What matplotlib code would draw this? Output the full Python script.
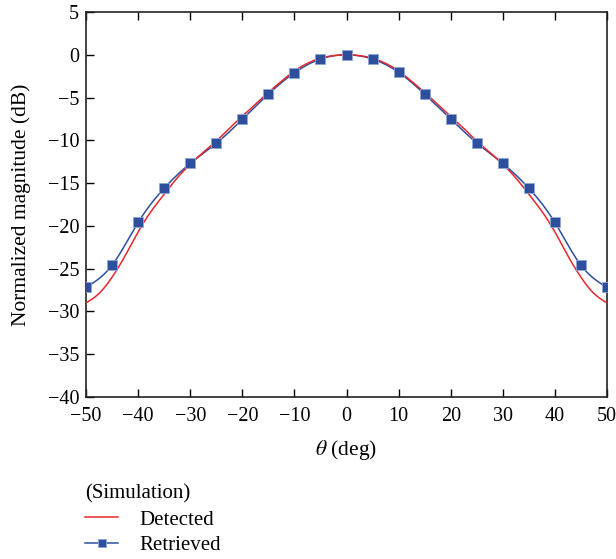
import numpy as np
import matplotlib
matplotlib.use("Agg")
import matplotlib.pyplot as plt
from matplotlib.lines import Line2D

# ---- data ----
theta_retrieved = [-50, -45, -40, -35, -30, -25, -20, -15, -10, -5, 0,
                   5, 10, 15, 20, 25, 30, 35, 40, 45, 50]
mag_retrieved = [-27.2, -24.6, -19.6, -15.6, -12.7, -10.35, -7.55, -4.6, -2.1, -0.5, 0.0,
                 -0.5, -2.05, -4.6, -7.5, -10.3, -12.7, -15.6, -19.6, -24.6, -27.2]

theta_detected = [-50, -47.5, -45, -42.5, -40, -37.5, -35, -32.5, -30, -27.5, -25,
                  -22.5, -20, -17.5, -15, -12.5, -10, -7.5, -5, -2.5, 0,
                  2.5, 5, 7.5, 10, 12.5, 15, 17.5, 20, 22.5, 25,
                  27.5, 30, 32.5, 35, 37.5, 40, 42.5, 45, 47.5, 50]
mag_detected = [-29.0, -27.9, -26.0, -23.5, -20.7, -18.3, -16.3, -14.4, -12.8, -11.4, -10.1,
                -8.6, -7.2, -5.8, -4.4, -3.1, -1.9, -1.0, -0.4, -0.1, 0.0,
                -0.1, -0.4, -1.0, -1.9, -3.1, -4.4, -5.8, -7.2, -8.6, -10.1,
                -11.4, -12.8, -14.4, -16.3, -18.3, -20.7, -23.5, -26.0, -27.9, -29.0]

xticks = [-50, -40, -30, -20, -10, 0, 10, 20, 30, 40, 50]
yticks = [5, 0, -5, -10, -15, -20, -25, -30, -35, -40]


def smooth(x, y, n=400):
    """Natural cubic spline for drawing a smooth line through the points."""
    x = np.asarray(x, float)
    y = np.asarray(y, float)
    m = len(x)
    h = np.diff(x)
    A = np.zeros((m, m))
    b = np.zeros(m)
    A[0, 0] = A[-1, -1] = 1
    for i in range(1, m - 1):
        A[i, i - 1] = h[i - 1]
        A[i, i] = 2 * (h[i - 1] + h[i])
        A[i, i + 1] = h[i]
        b[i] = 3 * ((y[i + 1] - y[i]) / h[i] - (y[i] - y[i - 1]) / h[i - 1])
    c = np.linalg.solve(A, b)
    xs = np.linspace(x[0], x[-1], n)
    idx = np.clip(np.searchsorted(x, xs) - 1, 0, m - 2)
    dx = xs - x[idx]
    hi = h[idx]
    bi = (y[idx + 1] - y[idx]) / hi - hi * (2 * c[idx] + c[idx + 1]) / 3
    di = (c[idx + 1] - c[idx]) / (3 * hi)
    ys = y[idx] + bi * dx + c[idx] * dx ** 2 + di * dx ** 3
    return xs, ys


plt.rcParams['font.family'] = ['Liberation Serif', 'DejaVu Serif']
plt.rcParams['mathtext.fontset'] = 'stix'

red = '#e8262d'
blue = '#2d4f9e'

fig = plt.figure(figsize=(6.16, 5.59), dpi=100)
ax = fig.add_axes([0.1396, 0.2898, 0.8458, 0.6887])

xd, yd = smooth(theta_detected, mag_detected)
ax.plot(xd, yd, color=red, lw=1.1, zorder=3)
xr, yr = smooth(theta_retrieved, mag_retrieved)
ax.plot(xr, yr, color=blue, lw=1.1, zorder=2)
ax.plot(theta_retrieved, mag_retrieved, ls='none', marker='s', ms=7,
        mfc=blue, mec='#8fa6d6', mew=0.6, zorder=4, clip_on=True)

ax.set_xlim(-50, 50)
ax.set_ylim(-40, 5)
ax.set_xticks(xticks)
ax.set_yticks(yticks)
ax.set_xticklabels([str(t).replace('-', '\u2212') for t in xticks])
ax.set_yticklabels([str(t).replace('-', '\u2212') for t in yticks])
ax.tick_params(axis='x', direction='in', length=6, width=1, top=True,
               labelsize=14.5, pad=7)
ax.tick_params(axis='y', direction='in', length=6, width=1, right=False,
               labelsize=14.5, pad=5)
for s in ax.spines.values():
    s.set_linewidth(1.2)
    s.set_color('#222222')

ax.set_xlabel(r'$\theta$ (deg)', fontsize=15.5, labelpad=9)
ax.set_ylabel('Normalized magnitude (dB)', fontsize=15.5, labelpad=12)

handles = [Line2D([], [], color=red, lw=1.1),
           Line2D([], [], color=blue, lw=1.1, marker='s', ms=6,
                  mfc=blue, mec='#8fa6d6', mew=0.6)]
leg = fig.legend(handles, ['Detected', 'Retrieved'], title='(Simulation)',
                 loc='upper left', bbox_to_anchor=(0.121, 0.152),
                 frameon=False, fontsize=15, title_fontsize=15,
                 handlelength=1.6, handletextpad=1.0, labelspacing=0.3,
                 alignment='left', borderpad=0.0)

fig.savefig('out.png', dpi=100)
